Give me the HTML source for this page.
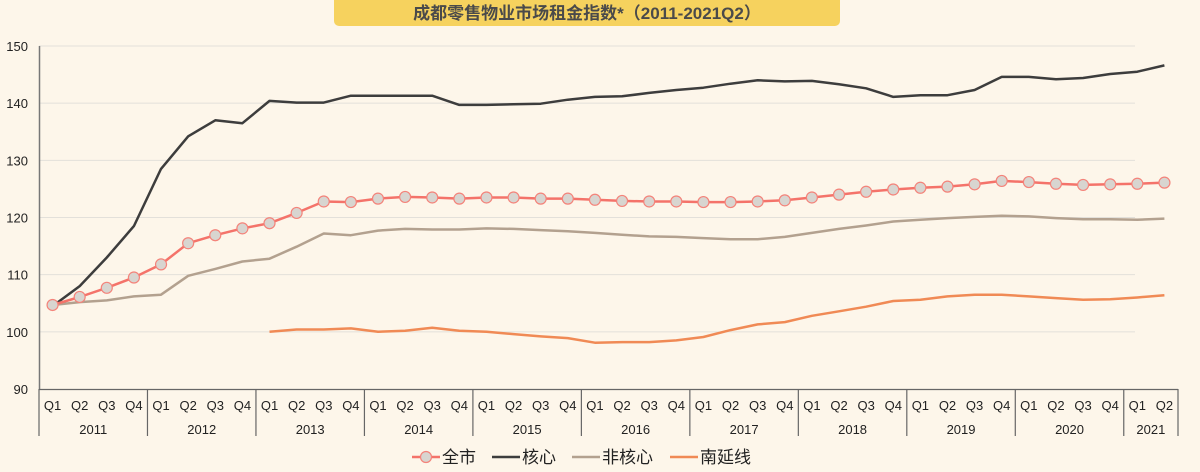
<!DOCTYPE html>
<html><head><meta charset="utf-8"><style>
body{margin:0;background:#fdf6ea;}
svg{display:block;font-family:"Liberation Sans","Noto Sans CJK SC",sans-serif;}
</style></head><body>
<svg id="s" width="1200" height="472" xmlns="http://www.w3.org/2000/svg">
<rect width="1200" height="472" fill="#fdf6ea"/>
<rect x="334" y="-6" width="506" height="32" rx="5" fill="#f6d25e"/>
<text x="587" y="19" text-anchor="middle" font-size="17" font-weight="bold" fill="#4a4a4a" font-family="'Liberation Sans','Noto Sans CJK SC',sans-serif">成都零售物业市场租金指数*（2011-2021Q2）</text>
<g id="g"></g>
</svg>
<script>
var g=document.getElementById('g'),h='';
var X0=39,W=1139/42,Y=function(v){return 46+(150-v)*343/60;};
var px=function(i){return X0+W*(i+0.5);};
for(var v=90;v<=150;v+=10){var y=Y(v);if(v>90)h+='<line x1="39" x2="1135" y1="'+y+'" y2="'+y+'" stroke="#e3e0da" stroke-width="1"/>';
h+='<text x="28" y="'+(y+5)+'" text-anchor="end" font-size="13" fill="#222">'+v+'</text>';}
h+='<line x1="39.5" x2="39.5" y1="46" y2="389" stroke="#777" stroke-width="1.5"/>';
h+='<line x1="39" x2="1178" y1="389.5" y2="389.5" stroke="#666" stroke-width="1.2"/>';
var yrs=['2011','2012','2013','2014','2015','2016','2017','2018','2019','2020'];
for(var k=0;k<=10;k++){var x=X0+W*4*k;h+='<line x1="'+x+'" x2="'+x+'" y1="389" y2="436" stroke="#666" stroke-width="1.2"/>';
if(k<10)h+='<text x="'+(x+W*2)+'" y="434" text-anchor="middle" font-size="13" fill="#222">'+yrs[k]+'</text>';}
h+='<line x1="1178" x2="1178" y1="389" y2="436" stroke="#666" stroke-width="1.2"/>';
h+='<text x="'+(X0+W*41)+'" y="434" text-anchor="middle" font-size="13" fill="#222">2021</text>';
for(var i=0;i<42;i++)h+='<text x="'+px(i)+'" y="410" text-anchor="middle" font-size="13" fill="#222">Q'+(i%4+1)+'</text>';
function line(d,off,c,w){var p=d.map(function(v,j){return px(j+off).toFixed(1)+','+Y(v).toFixed(1);}).join(' ');
return '<polyline points="'+p+'" fill="none" stroke="'+c+'" stroke-width="'+w+'" stroke-linejoin="round"/>';}
var core=[104.5,108,113,118.5,128.5,134.2,137,136.5,140.4,140.1,140.1,141.3,141.3,141.3,141.3,139.7,139.7,139.8,139.9,140.6,141.1,141.2,141.8,142.3,142.7,143.4,144,143.8,143.9,143.3,142.6,141.1,141.4,141.4,142.3,144.6,144.6,144.2,144.4,145.1,145.5,146.6];
var all=[104.7,106.1,107.7,109.5,111.8,115.5,116.9,118.1,119,120.8,122.8,122.7,123.3,123.6,123.5,123.3,123.5,123.5,123.3,123.3,123.1,122.9,122.8,122.8,122.7,122.7,122.8,123,123.5,124,124.5,124.9,125.2,125.4,125.8,126.4,126.2,125.9,125.7,125.8,125.9,126.1];
var non=[104.7,105.2,105.5,106.2,106.5,109.8,111,112.3,112.8,114.9,117.2,116.9,117.7,118,117.9,117.9,118.1,118,117.8,117.6,117.3,117,116.7,116.6,116.4,116.2,116.2,116.6,117.3,118,118.6,119.3,119.6,119.9,120.1,120.3,120.2,119.9,119.7,119.7,119.6,119.8];
var south=[100,100.4,100.4,100.6,100,100.2,100.7,100.2,100,99.6,99.2,98.9,98.1,98.2,98.2,98.5,99.1,100.3,101.3,101.7,102.8,103.6,104.4,105.4,105.6,106.2,106.5,106.5,106.2,105.9,105.6,105.7,106,106.4];
h+=line(south,8,'#f08a55',2.5);
h+=line(non,0,'#b3a18f',2.5);
h+=line(core,0,'#3d3d3d',2.5);
h+=line(all,0,'#f4736a',2.5);
all.forEach(function(v,j){h+='<circle cx="'+px(j)+'" cy="'+Y(v)+'" r="5.5" fill="#d8d5d0" stroke="#f4837a" stroke-width="1.2"/>';});
// legend
var L=[['全市','#f4736a',1],['核心','#3d3d3d',0],['非核心','#b3a18f',0],['南延线','#f08a55',0]],lx=[412,492,572,670];
L.forEach(function(l,k){var x=lx[k];h+='<line x1="'+x+'" x2="'+(x+28)+'" y1="457" y2="457" stroke="'+l[1]+'" stroke-width="2.5"/>';
if(l[2])h+='<circle cx="'+(x+14)+'" cy="457" r="5.5" fill="#d8d5d0" stroke="#f4837a" stroke-width="1.2"/>';
h+='<text x="'+(x+30)+'" y="463" font-size="17" fill="#222">'+l[0]+'</text>';});
g.innerHTML=h;
</script>
</body></html>
